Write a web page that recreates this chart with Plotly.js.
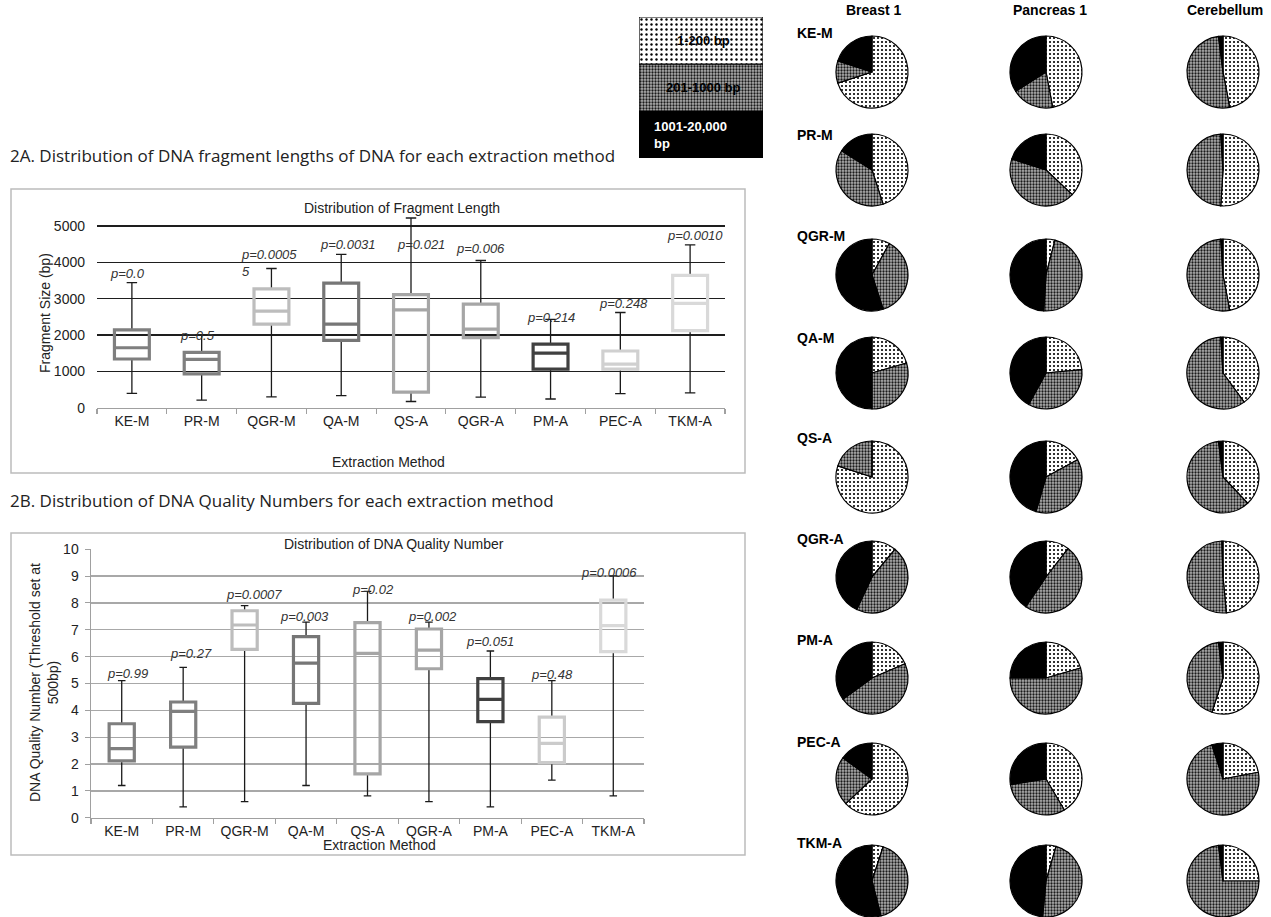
<!DOCTYPE html>
<html>
<head>
<meta charset="utf-8">
<script src="https://cdn.plot.ly/plotly-3.0.1.min.js"></script>
<style>html,body{margin:0;padding:0;background:#fff;}#chart{width:1271px;height:917px;}</style>
</head>
<body>
<div id="chart"></div>
<script>
// ---------- DATA ----------
const methods = ['KE-M','PR-M','QGR-M','QA-M','QS-A','QGR-A','PM-A','PEC-A','TKM-A'];

// 2A fragment length (bp)
const fragLower  = [395, 210, 300, 330, 170, 290, 240, 390, 410];
const fragQ1     = [1340, 930, 2300, 1850, 430, 1930, 1060, 1060, 2120];
const fragMedian = [1650, 1330, 2660, 2300, 2690, 2160, 1500, 1200, 2870];
const fragQ3     = [2140, 1520, 3270, 3430, 3110, 2850, 1750, 1560, 3640];
const fragUpper  = [3440, 2000, 3830, 4220, 5220, 4050, 2430, 2620, 4480];
const fragP      = ['p=0.0','p=0.5','p=0.0005<br>5','p=0.0031','p=0.021','p=0.006','p=0.214','p=0.248','p=0.0010'];

// 2B DNA quality number
const qualLower  = [1.20, 0.40, 0.60, 1.20, 0.81, 0.60, 0.40, 1.40, 0.81];
const qualQ1     = [2.12, 2.63, 6.27, 4.26, 1.63, 5.55, 3.58, 2.05, 6.19];
const qualMedian = [2.57, 3.96, 7.18, 5.76, 6.12, 6.24, 4.41, 2.77, 7.16];
const qualQ3     = [3.50, 4.31, 7.71, 6.75, 7.27, 7.03, 5.18, 3.75, 8.11];
const qualUpper  = [5.11, 5.60, 7.90, 7.29, 8.43, 7.29, 6.21, 5.11, 9.01];
const qualP      = ['p=0.99','p=0.27','p=0.0007','p=0.003','p=0.02','p=0.002','p=0.051','p=0.48','p=0.0006'];

// Pie charts: share (%) of [1-200 bp, 201-1000 bp, 1001-20,000 bp]
const sizeBins = ['1-200 bp','201-1000 bp','1001-20,000 bp'];
const tissues = ['Breast 1','Pancreas 1','Cerebellum'];
const breastPct = [[70,10,20],[45,39,16],[8,37,55],[20.5,29.5,50],[80,20,0],[11,46,43],[18.5,46.5,35],[63,22,15],[5,41,54]];
const pancreasPct = [[47,19,34],[37,43,20],[4,47,49],[23.5,34.5,42],[17,37.5,45.5],[10.5,49,40.5],[20.5,54.5,25],[41.5,31,27.5],[4.5,47,48.5]];
const cerebellumPct = [[47,51,2],[51,48,1],[47,52,1],[40,59,1],[38,60,2],[48.5,51,0.5],[55,43,2],[22,73,5],[25,73,2]];
const tissuePct = [breastPct, pancreasPct, cerebellumPct];

// ---------- LAYOUT HELPERS ----------
const W = 1271, H = 917;
const fx = x => x / W;
const fy = y => 1 - y / H;

const boxColors2A = ['#7f7f7f','#7f7f7f','#bdbdbd','#767676','#a6a6a6','#a6a6a6','#404040','#d0d0d0','#d9d9d9'];
const boxColors2B = ['#7f7f7f','#7f7f7f','#bdbdbd','#767676','#a6a6a6','#a6a6a6','#404040','#cbcbcb','#d9d9d9'];
// label placement (y in axis units, horizontal shift in px)
const fragPLabelY = [3680, 1980, 3990, 4500, 4500, 4370, 2470, 2880, 4730];
const fragPShift  = [-4, -4, -32, 7, 10, 0, 0, 3, 5];
const qualPLabelY = [5.39, 6.13, 8.30, 7.51, 8.52, 7.51, 6.55, 5.35, 9.15];
const qualPShift  = [6, 8, 9, -2, 5, 4, 0, 0, -4];

const pieColX = [872, 1046, 1223];
const pieRowY = [72, 170, 275, 373, 477, 577, 678, 779, 881];
const pieR = 36;

const dotPat = {shape:'.', bg:'#ffffff', fg:'#000000', size:4, sol:0.22};
const greyPat = {shape:'.', bg:'#b0b0b0', fg:'#1a1a1a', size:3, sol:0.45};

const traces = [];

function addBoxes(xa, ya, lower, q1, med, q3, upper, colors, bw) {
  traces.push({
    type:'box', xaxis:xa, yaxis:ya, x: methods,
    lowerfence: lower, q1: q1, median: med, q3: q3, upperfence: upper,
    line:{color:'#1a1a1a', width:1.3}, fillcolor:'rgba(0,0,0,0)',
    whiskerwidth:0.3, width:bw, boxpoints:false, hoverinfo:'skip', showlegend:false
  });
  methods.forEach((m, i) => {
    traces.push({
      type:'box', xaxis:xa, yaxis:ya, x:[m],
      lowerfence:[q1[i]], q1:[q1[i]], median:[med[i]], q3:[q3[i]], upperfence:[q3[i]],
      line:{color:colors[i], width:3.2}, fillcolor:'rgba(0,0,0,0)',
      whiskerwidth:0, width:bw, boxpoints:false, hoverinfo:'skip', showlegend:false
    });
  });
}
addBoxes('x','y', fragLower, fragQ1, fragMedian, fragQ3, fragUpper, boxColors2A, 0.5);
addBoxes('x2','y2', qualLower, qualQ1, qualMedian, qualQ3, qualUpper, boxColors2B, 0.41);

// pies
tissues.forEach((t, c) => {
  methods.forEach((m, r) => {
    const cx = pieColX[c], cy = pieRowY[r];
    traces.push({
      type:'pie', values: tissuePct[c][r], labels: sizeBins,
      sort:false, direction:'clockwise', rotation:0,
      domain:{x:[fx(cx-pieR), fx(cx+pieR)], y:[fy(cy+pieR), fy(cy-pieR)]},
      textinfo:'none', hoverinfo:'skip', showlegend:false,
      marker:{
        colors:['#ffffff','#b0b0b0','#000000'],
        line:{color:'#000', width:1.2},
        pattern:{
          shape:[dotPat.shape, greyPat.shape, ''],
          bgcolor:[dotPat.bg, greyPat.bg, '#000000'],
          fgcolor:[dotPat.fg, greyPat.fg, '#000000'],
          size:[dotPat.size, greyPat.size, 4],
          solidity:[dotPat.sol, greyPat.sol, 0.2]
        }
      }
    });
  });
});

// legend block (stacked bars)
[2,1,0].forEach((k, j) => {
  const p = [{shape:'',bg:'#000',fg:'#000',size:4,sol:0.2}, greyPat, {shape:'.', bg:'#ffffff', fg:'#000000', size:5, sol:0.18}][j];
  traces.push({
    type:'bar', xaxis:'x3', yaxis:'y3', x:[0], y:[1], base:[j], width:[1],
    marker:{color:p.bg, line:{color:'#000', width:1.2},
      pattern:{shape:p.shape, bgcolor:p.bg, fgcolor:p.fg, size:p.size, solidity:p.sol}},
    hoverinfo:'skip', showlegend:false, name:sizeBins[k]
  });
});

const tickFont = {family:'Liberation Sans, Arial, sans-serif', size:14, color:'#222'};
const annFont = {family:'Liberation Sans, Arial, sans-serif', size:14, color:'#222'};
const pFont = {family:'Liberation Sans, Arial, sans-serif', size:13, color:'#333'};
const headFont = {family:'Open Sans, sans-serif', size:17, color:'#222'};
const boldFont = {family:'Liberation Sans, Arial, sans-serif', size:14, color:'#000', weight:'bold'};

const annotations = [];
// headings
annotations.push({xref:'paper', yref:'paper', x:fx(8), y:fy(155), xanchor:'left', yanchor:'middle',
  text:'2A. Distribution of DNA fragment lengths of DNA for each extraction method', showarrow:false, font:headFont});
annotations.push({xref:'paper', yref:'paper', x:fx(8), y:fy(500), xanchor:'left', yanchor:'middle',
  text:'2B. Distribution of DNA Quality Numbers for each extraction method', showarrow:false, font:headFont});
// chart titles
annotations.push({xref:'paper', yref:'paper', x:fx(402), y:fy(208), xanchor:'center', yanchor:'middle',
  text:'Distribution of Fragment Length', showarrow:false, font:annFont});
annotations.push({xref:'paper', yref:'paper', x:fx(394), y:fy(544), xanchor:'center', yanchor:'middle',
  text:'Distribution of DNA Quality Number', showarrow:false, font:annFont});
// axis titles
annotations.push({xref:'paper', yref:'paper', x:fx(45), y:fy(313), xanchor:'center', yanchor:'middle', textangle:-90,
  text:'Fragment Size (bp)', showarrow:false, font:annFont});
annotations.push({xref:'paper', yref:'paper', x:fx(388), y:fy(462), xanchor:'center', yanchor:'middle',
  text:'Extraction Method', showarrow:false, font:annFont});
annotations.push({xref:'paper', yref:'paper', x:fx(44), y:fy(683), xanchor:'center', yanchor:'middle', textangle:-90,
  text:'DNA Quality Number (Threshold set at<br>500bp)', showarrow:false, font:annFont});
annotations.push({xref:'paper', yref:'paper', x:fx(379), y:fy(845), xanchor:'center', yanchor:'middle',
  text:'Extraction Method', showarrow:false, font:annFont});
// p-values
methods.forEach((m, i) => {
  annotations.push({xref:'x', yref:'y', x:m, y:fragPLabelY[i], xshift:fragPShift[i],
    xanchor: i === 2 ? 'left' : 'center', yanchor:'middle', align:'left',
    text:'<i>' + fragP[i] + '</i>', showarrow:false, font:pFont});
  annotations.push({xref:'x2', yref:'y2', x:m, y:qualPLabelY[i], xshift:qualPShift[i],
    xanchor:'center', yanchor:'middle',
    text:'<i>' + qualP[i] + '</i>', showarrow:false, font:pFont});
});
// pie row labels
methods.forEach((m, r) => {
  const labY = [33, 135, 236, 338, 438, 539, 640, 742, 843][r];
  annotations.push({xref:'paper', yref:'paper', x:fx(795), y:fy(labY), xanchor:'left', yanchor:'middle',
    text:'<b>' + m + '</b>', showarrow:false, font:boldFont});
});
// pie column headers
tissues.forEach((t, c) => {
  annotations.push({xref:'paper', yref:'paper', x:fx(pieColX[c] + [1,4,2][c]), y:fy(0), xanchor:'center', yanchor:'top',
    text:'<b>' + t + '</b>', showarrow:false, font:boldFont});
});
// legend texts
annotations.push({xref:'paper', yref:'paper', x:fx(703), y:fy(41), xanchor:'center', yanchor:'middle',
  text:'<b>' + sizeBins[0] + '</b>', showarrow:false, font:{family:'Liberation Sans, Arial, sans-serif', size:13, color:'#000'}});
annotations.push({xref:'paper', yref:'paper', x:fx(703), y:fy(87), xanchor:'center', yanchor:'middle',
  text:'<b>' + sizeBins[1] + '</b>', showarrow:false, font:{family:'Liberation Sans, Arial, sans-serif', size:13, color:'#000'}});
annotations.push({xref:'paper', yref:'paper', x:fx(652), y:fy(135), xanchor:'left', yanchor:'middle', align:'left',
  text:'<b>1001-20,000<br>bp</b>', showarrow:false, font:{family:'Liberation Sans, Arial, sans-serif', size:13, color:'#fff'}});

const layout = {
  width:W, height:H, margin:{l:0,r:0,t:0,b:0}, paper_bgcolor:'#fff', plot_bgcolor:'rgba(0,0,0,0)',
  showlegend:false, boxmode:'overlay', barmode:'overlay',
  font:{family:'Liberation Sans, Arial, sans-serif'},
  xaxis:{domain:[fx(97), fx(725)], anchor:'y', type:'category', categoryorder:'array', categoryarray:methods,
    range:[-0.5, 8.5], showline:true, linecolor:'#a0a0a0', linewidth:1.5, ticks:'outside', tickson:'boundaries',
    ticklen:5, tickcolor:'#a0a0a0', tickwidth:1.2, showgrid:false, zeroline:false, tickfont:tickFont, fixedrange:true},
  yaxis:{domain:[fy(407.7), fy(216.9)], anchor:'x', range:[0,5250], tick0:0, dtick:1000, showgrid:true,
    gridcolor:'#1e1e1e', gridwidth:1.2, zeroline:false, showline:false, ticks:'', ticklabelstandoff:11,
    tickfont:tickFont, fixedrange:true},
  xaxis2:{domain:[fx(91), fx(644)], anchor:'y2', type:'category', categoryorder:'array', categoryarray:methods,
    range:[-0.5, 8.5], showline:true, linecolor:'#a0a0a0', linewidth:1.5, ticks:'outside', tickson:'boundaries',
    ticklen:5, tickcolor:'#a0a0a0', tickwidth:1.2, showgrid:false, zeroline:false, tickfont:tickFont, fixedrange:true},
  yaxis2:{domain:[fy(817.7), fy(549.3)], anchor:'x2', range:[0,10], tick0:0, dtick:1, showgrid:true,
    gridcolor:'#a8a8a8', gridwidth:1.3, zeroline:false, showline:true, linecolor:'#a0a0a0', linewidth:1.5,
    ticks:'outside', ticklen:5, tickcolor:'#a0a0a0', ticklabelstandoff:3, tickfont:tickFont, fixedrange:true},
  xaxis3:{domain:[fx(639), fx(763)], anchor:'y3', range:[-0.5,0.5], visible:false, fixedrange:true},
  yaxis3:{domain:[fy(158), fy(17)], anchor:'x3', range:[0,3], visible:false, fixedrange:true},
  shapes:[
    {type:'rect', xref:'paper', yref:'paper', x0:fx(11), x1:fx(745), y0:fy(473), y1:fy(189), line:{color:'#bcbcbc', width:1.5}},
    {type:'rect', xref:'paper', yref:'paper', x0:fx(11), x1:fx(745), y0:fy(855), y1:fy(533), line:{color:'#bcbcbc', width:1.5}}
  ],
  annotations: annotations
};

Plotly.newPlot('chart', traces, layout, {staticPlot:true, displayModeBar:false});
</script>
</body>
</html>
